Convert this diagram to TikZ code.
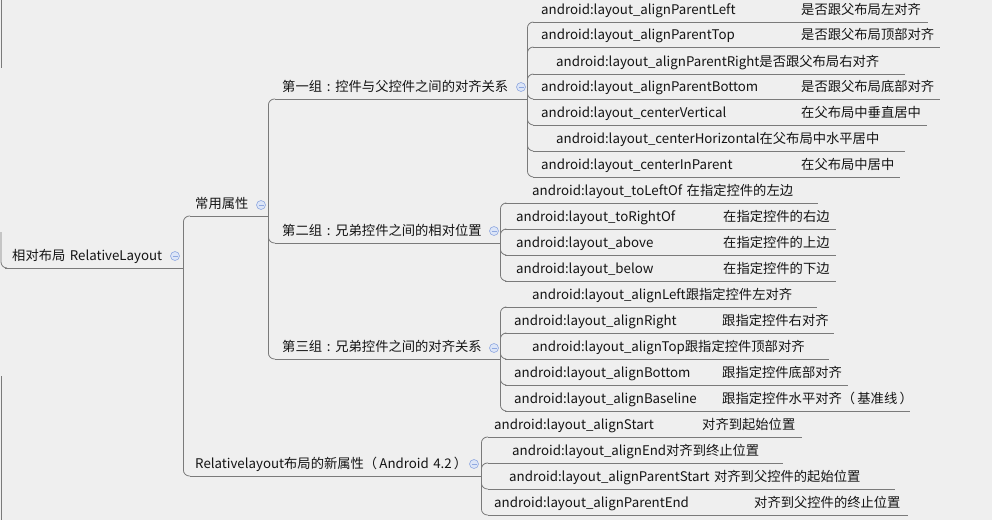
\documentclass[tikz,border=0pt]{standalone}
\usepackage{fontspec}
\setmainfont{Noto Sans CJK SC}
\definecolor{bg}{HTML}{EFEFEF}
\definecolor{linec}{HTML}{7A7A7A}
\definecolor{foldline}{HTML}{8FA8E0}
\definecolor{foldfill}{HTML}{DCE5F7}
% two text columns inside one topic
\newcommand{\attr}[2]{\makebox[#1][l]{#2}}
% centred full-width colon
\newcommand{\zcolon}{\makebox[1em]{:}}
\tikzset{
  item/.style={anchor=south west, inner xsep=0pt, inner ysep=0pt, text depth=7pt,
    align=left, font=\fontsize{13.3}{15}\selectfont, text=black!92},
  conn/.style={draw=linec, line width=0.8pt, rounded corners=6pt},
  ul/.style={draw=linec, line width=0.8pt},
  fold/.style={circle, draw=foldline, fill=foldfill, line width=0.6pt,
    minimum size=9pt, inner sep=0pt,
    path picture={\draw[foldline, line width=0.8pt]
      ([xshift=-2.5pt]path picture bounding box.center) --
      ([xshift=2.5pt]path picture bounding box.center);}}
}
\begin{document}
\begin{tikzpicture}[x=1pt, y=-1pt]
\useasboundingbox (0,0) rectangle (992,520);
\fill[bg] (0,0) rectangle (992,520);

% main branches
\node[item, text width=178pt] (root) at (5,268) {\hspace*{7pt}相对布局 RelativeLayout};
\node[item, text width=78pt] (common) at (190,216) {\hspace*{5pt}常用属性};
\node[item, text width=291pt] (newattr) at (190,476) {\hspace*{5pt}Relativelayout布局的新属性（\,Android 4.2\,）};

\node[item, text width=252pt] (grpA) at (275,99) {\hspace*{7pt}第一组\zcolon 控件与父控件之间的对齐关系};
\node[item, text width=225pt] (grpB) at (275,243) {\hspace*{7pt}第二组\zcolon 兄弟控件之间的相对位置};
\node[item, text width=225pt] (grpC) at (275,359) {\hspace*{7pt}第三组\zcolon 兄弟控件之间的对齐关系};

% first group
\node[item, text width=395pt] (pLeft) at (533,22) {\hspace*{8pt}\attr{260pt}{android:layout\_alignParentLeft}是否跟父布局左对齐};
\node[item, text width=407pt] (pTop) at (533,47) {\hspace*{8pt}\attr{260pt}{android:layout\_alignParentTop}是否跟父布局顶部对齐};
\node[item, text width=372pt] (pRight) at (533,74) {\hspace*{23pt}android:layout\_alignParentRight是否跟父布局右对齐};
\node[item, text width=407pt] (pBottom) at (533,99) {\hspace*{8pt}\attr{260pt}{android:layout\_alignParentBottom}是否跟父布局底部对齐};
\node[item, text width=394pt] (cVert) at (533,125) {\hspace*{8pt}\attr{260pt}{android:layout\_centerVertical}在父布局中垂直居中};
\node[item, text width=372pt] (cHoriz) at (533,151) {\hspace*{23pt}android:layout\_centerHorizontal在父布局中水平居中};
\node[item, text width=367pt] (cParent) at (533,177) {\hspace*{8pt}\attr{260pt}{android:layout\_centerInParent}在父布局中居中};

% second group
\node[item, text width=313pt] (toLeft) at (505,203) {\hspace*{27pt}android:layout\_toLeftOf 在指定控件的左边};
\node[item, text width=331pt] (toRight) at (505,229) {\hspace*{11pt}\attr{207pt}{android:layout\_toRightOf}在指定控件的右边};
\node[item, text width=331pt] (above) at (505,255) {\hspace*{11pt}\attr{207pt}{android:layout\_above}在指定控件的上边};
\node[item, text width=331pt] (below) at (505,281) {\hspace*{11pt}\attr{207pt}{android:layout\_below}在指定控件的下边};

% third group
\node[item, text width=312pt] (aLeft) at (505,307) {\hspace*{27pt}android:layout\_alignLeft跟指定控件左对齐};
\node[item, text width=329pt] (aRight) at (505,333) {\hspace*{9pt}\attr{208pt}{android:layout\_alignRight}跟指定控件右对齐};
\node[item, text width=324pt] (aTop) at (505,359) {\hspace*{27pt}android:layout\_alignTop跟指定控件顶部对齐};
\node[item, text width=343pt] (aBottom) at (505,385) {\hspace*{9pt}\attr{208pt}{android:layout\_alignBottom}跟指定控件底部对齐};
\node[item, text width=405pt] (aBase) at (505,411) {\hspace*{9pt}\attr{208pt}{android:layout\_alignBaseline}跟指定控件水平对齐（\,基准线\,）};

% new attributes
\node[item, text width=314pt] (aStart) at (488,437) {\hspace*{6pt}\attr{208pt}{android:layout\_alignStart}对齐到起始位置};
\node[item, text width=295pt] (aEnd) at (488,463) {\hspace*{24pt}android:layout\_alignEnd对齐到终止位置};
\node[item, text width=407pt] (apStart) at (488,489) {\hspace*{21pt}android:layout\_alignParentStart 对齐到父控件的起始位置};
\node[item, text width=420pt] (apEnd) at (488,515) {\hspace*{6pt}\attr{260pt}{android:layout\_alignParentEnd}对齐到父控件的终止位置};

% fold buttons
\node[fold] (fRoot) at (175,256) {};
\node[fold] (fCommon) at (261,205) {};
\node[fold] (fNew) at (474,464) {};
\node[fold] (fA) at (521,87) {};
\node[fold] (fB) at (494,231) {};
\node[fold] (fC) at (494,348) {};

% underlines
\foreach \n in {root,common,newattr,grpA,grpB,grpC,pLeft,pTop,pRight,pBottom,cVert,cHoriz,cParent,
  toLeft,toRight,above,below,aLeft,aRight,aTop,aBottom,aBase,aStart,aEnd,apStart,apEnd}
  \draw[ul] (\n.south west) -- (\n.south east);

% connectors
\coordinate (edgeTop) at (1,0);
\coordinate (edgeTopEnd) at (1,68);
\coordinate (edgeMid) at (1,232);
\coordinate (edgeBot) at (1,376);
\coordinate (edgeBotEnd) at (1,520);
\draw[conn] (edgeTop) -- (edgeTopEnd);
\draw[conn] (edgeMid) |- (root.south west);
\draw[conn] (edgeBot) -- (edgeBotEnd);

\foreach \c in {common,newattr} \draw[conn] (root.south east) |- (\c.south west);
\foreach \c in {grpA,grpB,grpC} \draw[conn] (common.south east) |- (\c.south west);
\foreach \c in {pLeft,pTop,pRight,pBottom,cVert,cHoriz,cParent} \draw[conn] (grpA.south east) |- (\c.south west);
\foreach \c in {toLeft,toRight,above,below} \draw[conn] (grpB.south east) |- (\c.south west);
\foreach \c in {aLeft,aRight,aTop,aBottom,aBase} \draw[conn] (grpC.south east) |- (\c.south west);
\foreach \c in {aStart,aEnd,apStart,apEnd} \draw[conn] (newattr.south east) |- (\c.south west);
\end{tikzpicture}
\end{document}
